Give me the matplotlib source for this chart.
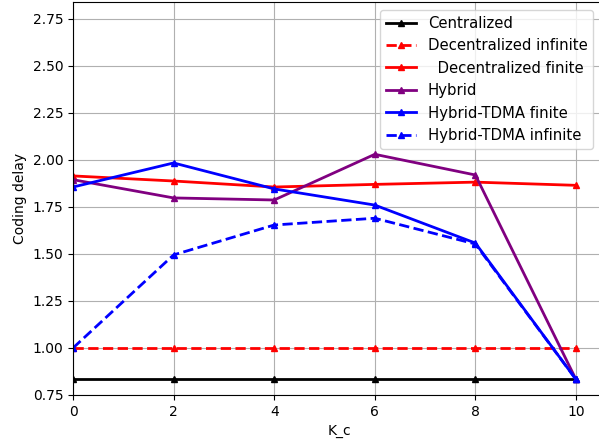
import matplotlib
matplotlib.use('Agg')
import matplotlib.pyplot as plt

# K_c values on the x axis
k_c = [0, 2, 4, 6, 8, 10]

# coding delay per scheme
centralized = [0.833, 0.833, 0.833, 0.833, 0.833, 0.833]
decentralized_inf = [1.0, 1.0, 1.0, 1.0, 1.0, 1.0]
decentralized_fin = [1.915, 1.888, 1.856, 1.870, 1.882, 1.865]
hybrid = [1.895, 1.798, 1.787, 2.030, 1.920, 0.833]
hybrid_tdma_fin = [1.856, 1.984, 1.846, 1.760, 1.558, 0.833]
hybrid_tdma_inf = [1.0, 1.495, 1.654, 1.690, 1.553, 0.833]

fig = plt.figure(figsize=(5.99, 4.44), dpi=100)
ax = fig.add_axes([0.1219, 0.1104, 0.89, 0.8851])

ax.plot(k_c, centralized, '-^', color='black', linewidth=2, markersize=5, label='Centralized')
ax.plot(k_c, decentralized_inf, '--^', color='red', linewidth=2, markersize=5, label='Decentralized infinite')
ax.plot(k_c, decentralized_fin, '-^', color='red', linewidth=2, markersize=5, label='  Decentralized finite')
ax.plot(k_c, hybrid, '-^', color='purple', linewidth=2, markersize=5, label='Hybrid')
ax.plot(k_c, hybrid_tdma_fin, '-^', color='blue', linewidth=2, markersize=5, label='Hybrid-TDMA finite')
ax.plot(k_c, hybrid_tdma_inf, '--^', color='blue', linewidth=2, markersize=5, label='Hybrid-TDMA infinite')

ax.set_xlim(0, 10.6)
ax.set_ylim(0.75, 2.84)
ax.set_xticks([0, 2, 4, 6, 8, 10])
ax.set_yticks([0.75, 1.0, 1.25, 1.5, 1.75, 2.0, 2.25, 2.5, 2.75])
ax.grid(True)
ax.set_xlabel('K_c')
ax.set_ylabel('Coding delay')
ax.legend(loc='upper right', bbox_to_anchor=(0.976, 0.98), borderaxespad=0, fontsize=10.7)

fig.savefig('out.png', dpi=100)
